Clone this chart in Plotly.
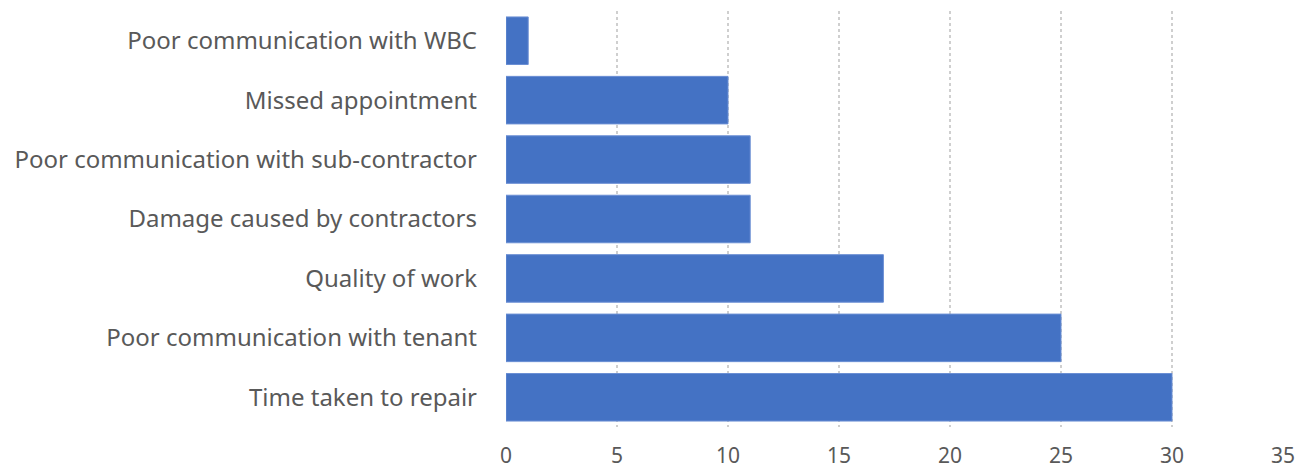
import plotly.graph_objects as go

# Complaint categories (top to bottom as displayed) and their counts
categories = [
    "Poor communication with WBC",
    "Missed appointment",
    "Poor communication with sub-contractor",
    "Damage caused by contractors",
    "Quality of work",
    "Poor communication with tenant",
    "Time taken to repair",
]
counts = [1, 10, 11, 11, 17, 25, 30]
x_ticks = [0, 5, 10, 15, 20, 25, 30, 35]

fig = go.Figure(
    go.Bar(
        x=counts,
        y=categories,
        orientation="h",
        marker=dict(color="#4472C4", line=dict(color="#6b8fd4", width=1)),
        hoverinfo="x+y",
    )
)

fig.update_layout(
    width=1312,
    height=471,
    margin=dict(l=506, r=29, t=11, b=44),
    paper_bgcolor="white",
    plot_bgcolor="white",
    bargap=0.2,
    showlegend=False,
    font=dict(family="Noto Sans, Open Sans, sans-serif", size=24, color="#595959"),
)

fig.update_xaxes(
    range=[0, 35],
    tickvals=x_ticks,
    showgrid=True,
    gridcolor="#cfcfcf",
    gridwidth=1.5,
    griddash="dot",
    zeroline=False,
    showline=False,
    ticks="",
    ticklabelstandoff=14,
    tickfont=dict(size=21),
    automargin=False,
)

fig.update_yaxes(
    categoryorder="array",
    categoryarray=categories[::-1],
    showgrid=False,
    zeroline=False,
    showline=False,
    ticks="",
    ticklabelstandoff=28,
    automargin=False,
)

fig.write_html("out.html")
